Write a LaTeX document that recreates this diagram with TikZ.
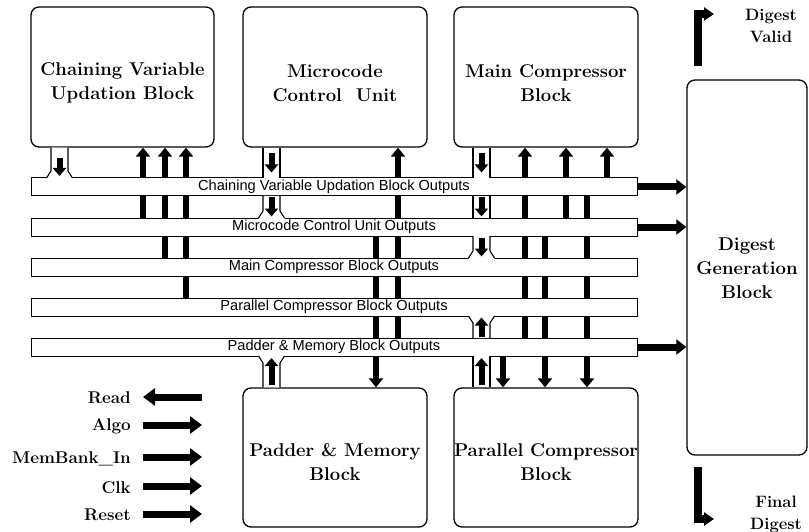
\documentclass[tikz,border=0pt]{standalone}
\usepackage{fontspec}
\setsansfont{Liberation Sans}
\usetikzlibrary{arrows.meta}

% channel segment between two edges: xl, xr, y1, y2
\newcommand\chanseg[4]{%
  \fill[white] (#1,#3) rectangle (#2,#4);
  \draw[chside] (#1,#3) -- (#1,#4) (#2,#3) -- (#2,#4);
}
% channel that widens into the top edge of a bus: xl, xr, ytop, ybus
\newcommand\flaredn[4]{%
  \fill[white] (#1-4.5,#4+0.8) -- (#1-4.5,#4) -- (#1,#4-7) -- (#1,#3) -- (#2,#3)
     -- (#2,#4-7) -- (#2+4.5,#4) -- (#2+4.5,#4+0.8) -- cycle;
  \draw[chside] (#1,#3) -- (#1,#4-7) -- (#1-4.5,#4) (#2,#3) -- (#2,#4-7) -- (#2+4.5,#4);
}
% channel that widens into the bottom edge of a bus: xl, xr, ybottom, ybus
\newcommand\flareup[4]{%
  \fill[white] (#1-4.5,#4-0.8) -- (#1-4.5,#4) -- (#1,#4+7) -- (#1,#3) -- (#2,#3)
     -- (#2,#4+7) -- (#2+4.5,#4) -- (#2+4.5,#4-0.8) -- cycle;
  \draw[chside] (#1,#3) -- (#1,#4+7) -- (#1-4.5,#4) (#2,#3) -- (#2,#4+7) -- (#2+4.5,#4);
}

\begin{document}
\begin{tikzpicture}[x=1pt,y=-1pt,
  blk/.style={draw, line width=1.3pt, rounded corners=8pt, inner sep=0pt},
  lbl/.style={font=\fontsize{18.5}{24}\selectfont\bfseries, align=center, inner sep=0pt},
  iolbl/.style={font=\fontsize{17}{20}\selectfont\bfseries, anchor=base east, inner sep=0pt},
  outlbl/.style={font=\fontsize{16.5}{22}\selectfont\bfseries, align=center, inner sep=0pt},
  bus/.style={draw, fill=white, line width=1pt, minimum width=606pt, minimum height=18pt,
    inner sep=0pt, font=\fontsize{14.6}{15}\selectfont\sffamily},
  chside/.style={line width=1.1pt},
  wire/.style={line width=6pt, -{Triangle[width=14pt,length=9pt]}},
  pipe/.style={line width=6pt, -{Triangle[width=13pt,length=8pt]}, shorten <=2pt, shorten >=1.5pt},
  busout/.style={line width=7pt, -{Triangle[width=15pt,length=10pt]}},
  io/.style={line width=7pt, -{Triangle[width=17pt,length=12pt]}},
  bent/.style={line width=8pt, line join=miter, -{Triangle[width=13pt,length=10pt]}},
]
\useasboundingbox (0,0) rectangle (809,532);

% functional blocks
\node[blk, minimum width=183pt, minimum height=140pt] (cvub) at (122.5,77) {};
\node[blk, minimum width=184pt, minimum height=140pt] (mcu)  at (335,77) {};
\node[blk, minimum width=184pt, minimum height=140pt] (mcb)  at (546,77) {};
\node[blk, minimum width=184pt, minimum height=139pt] (pmb)  at (335,457.5) {};
\node[blk, minimum width=184pt, minimum height=139pt] (pcb)  at (546,457.5) {};
\node[blk, minimum width=120pt, minimum height=375pt] (dgb)  at (747,267.5) {};

\node[lbl] (cvubt) at (122.5,83) {Chaining Variable\\Updation Block};
\node[lbl] (mcut)  at (335,83) {Microcode\\Control\ \ Unit};
\node[lbl] (mcbt)  at (546,83) {Main Compressor\\Block};
\node[lbl] (pmbt)  at (335,462) {Padder \& Memory\\Block};
\node[lbl] (pcbt)  at (546,462) {Parallel Compressor\\Block};
\node[lbl] (dgbt)  at (747,268) {Digest\\Generation\\Block};

% x positions of the vertical signal lines
\foreach \n/\x in {a/143, b/165, c/186, d/376, e/398, f/503, g/525, h/545, i/566, j/587, k/607,
                   p/59.5, q/271.5, r/481.5}
  \coordinate (x\n) at (\x,0);

% bus nodes (placed on a path so they can be referenced before drawing)
\path node[bus, draw=none, fill=none] (bus1) at (334,187) {}
      node[bus, draw=none, fill=none] (bus2) at (334,227) {}
      node[bus, draw=none, fill=none] (bus3) at (334,267) {}
      node[bus, draw=none, fill=none] (bus4) at (334,307) {}
      node[bus, draw=none, fill=none] (bus5) at (334,347) {};

% signal lines from the buses into the blocks
\draw[wire] (xa |- bus2.north) -- (xa |- cvub.south);
\draw[wire] (xb |- bus3.north) -- (xb |- cvub.south);
\draw[wire] (xc |- bus4.north) -- (xc |- cvub.south);
\draw[wire] (xe |- bus5.north) -- (xe |- mcu.south);
\draw[wire] (xd |- bus2.south) -- (xd |- pmb.north);
\draw[wire] (xg |- bus5.north) -- (xg |- mcb.south);
\draw[wire] (xi |- bus2.north) -- (xi |- mcb.south);
\draw[wire] (xk |- bus1.north) -- (xk |- mcb.south);
\draw[wire] (xf |- bus5.south) -- (xf |- pcb.north);
\draw[wire] (xh |- bus2.south) -- (xh |- pcb.north);
\draw[wire] (xj |- bus1.south) -- (xj |- pcb.north);

% output buses
\node[bus] at (bus1) {Chaining Variable Updation Block Outputs};
\node[bus] at (bus2) {Microcode Control Unit Outputs};
\node[bus] at (bus3) {Main Compressor Block Outputs};
\node[bus] at (bus4) {Parallel Compressor Block Outputs};
\node[bus] at (bus5) {Padder \& Memory Block Outputs};

% block output channels
\flaredn{51}{68}{147.6}{178}
\draw[pipe, shorten <=10pt] (xp |- cvub.south) -- (xp |- bus1.north);

\chanseg{263}{280}{147.6}{178}
\flaredn{263}{280}{196}{218}
\draw[pipe, shorten <=5pt, shorten >=5pt] (xq |- mcu.south) -- (xq |- bus1.north);
\draw[pipe, shorten <=1pt, shorten >=1pt] (xq |- bus1.south) -- (xq |- bus2.north);

\chanseg{473}{490}{147.6}{178}
\chanseg{473}{490}{196}{218}
\flaredn{473}{490}{236}{258}
\draw[pipe, shorten <=5pt, shorten >=5pt] (xr |- mcb.south) -- (xr |- bus1.north);
\draw[pipe, shorten <=1pt, shorten >=1pt] (xr |- bus1.south) -- (xr |- bus2.north);
\draw[pipe, shorten <=1pt, shorten >=1pt] (xr |- bus2.south) -- (xr |- bus3.north);

\flareup{263}{280}{387.4}{356}
\draw[pipe] (xq |- pmb.north) -- (xq |- bus5.south);

\chanseg{473}{490}{387.4}{356}
\flareup{473}{490}{338}{316}
\draw[pipe] (xr |- pcb.north) -- (xr |- bus5.south);
\draw[pipe, shorten <=1pt, shorten >=1pt] (xr |- bus5.north) -- (xr |- bus4.south);

% buses into the digest generation block
\draw[busout] (bus1.east) -- (bus1.east -| dgb.west);
\draw[busout] (bus2.east) -- (bus2.east -| dgb.west);
\draw[busout] (bus5.east) -- (bus5.east -| dgb.west);

% digest outputs
\coordinate (dv0) at (697.5,66);
\coordinate (dv1) at (714,14);
\draw[bent] (dv0) |- (dv1);
\node[outlbl] (dvt) at (771,26) {Digest\\Valid};

\coordinate (fd0) at (697.5,467);
\coordinate (fd1) at (714,519);
\draw[bent] (fd0) |- (fd1);
\node[outlbl] (fdt) at (776,514) {Final\\Digest};

% external interface signals
\node[iolbl] (lread) at (131,403) {Read};
\node[iolbl] (lalgo) at (131,430) {Algo};
\node[iolbl] (lmem)  at (131,463) {MemBank\_In};
\node[iolbl] (lclk)  at (131,493) {Clk};
\node[iolbl] (lrst)  at (131,520) {Reset};

\coordinate (ior) at (202,397);
\coordinate (ioa) at (143,425);
\coordinate (iom) at (143,457);
\coordinate (ioc) at (143,486);
\coordinate (iox) at (143,514);
\draw[io] (ior) -- ++(-59,0);
\draw[io] (ioa) -- ++(59,0);
\draw[io] (iom) -- ++(59,0);
\draw[io] (ioc) -- ++(59,0);
\draw[io] (iox) -- ++(59,0);
\end{tikzpicture}
\end{document}
